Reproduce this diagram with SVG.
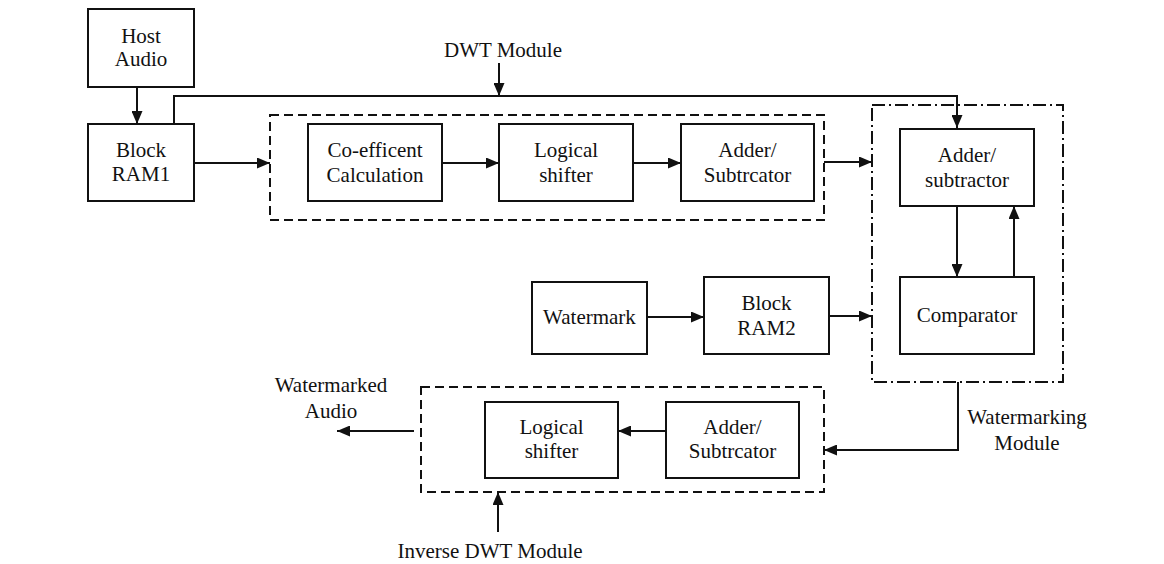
<svg xmlns="http://www.w3.org/2000/svg" width="1164" height="564" viewBox="0 0 1164 564">
<style>
.box{fill:#fff;stroke:#111;stroke-width:2}
.dash{fill:none;stroke:#111;stroke-width:2;stroke-dasharray:9 5}
.dashdot{fill:none;stroke:#111;stroke-width:2;stroke-dasharray:13 4 2 4}
.conn{fill:none;stroke:#111;stroke-width:2;marker-end:url(#ah)}
text{font-size:21px;fill:#111;text-anchor:middle}
</style>
<defs>
<marker id="ah" viewBox="0 0 13 11" refX="13" refY="5.5" markerWidth="13" markerHeight="11" markerUnits="userSpaceOnUse" orient="auto">
<path d="M0,0 L13,5.5 L0,11 z" fill="#111"/>
</marker>
</defs>
<rect width="1164" height="564" fill="#fff"/>
<g font-family="Liberation Serif, Times New Roman, DejaVu Serif, serif">
<g id="dwt-module">
<rect class="dash" x="270" y="115" width="554" height="105"/>
<text x="503" y="57">DWT Module</text>
</g>
<g id="watermarking-module">
<rect class="dashdot" x="872" y="105" width="191" height="277"/>
<text x="1027" y="424">Watermarking</text>
<text x="1027" y="450">Module</text>
</g>
<g id="inverse-dwt-module">
<rect class="dash" x="421" y="387" width="403" height="105"/>
<text x="490" y="558">Inverse DWT Module</text>
</g>

<g id="host-audio">
<rect class="box" x="88" y="9" width="106" height="78"/>
<text x="141" y="43">Host</text>
<text x="141" y="66">Audio</text>
</g>
<g id="block-ram1">
<rect class="box" x="88" y="124" width="106" height="77"/>
<text x="141" y="157">Block</text>
<text x="141" y="181">RAM1</text>
</g>
<g id="coefficent">
<rect class="box" x="308" y="124" width="134" height="77"/>
<text x="375" y="157">Co-efficent</text>
<text x="375" y="182">Calculation</text>
</g>
<g id="logical-shifter-1">
<rect class="box" x="499" y="124" width="134" height="77"/>
<text x="566" y="157">Logical</text>
<text x="566" y="182">shifter</text>
</g>
<g id="adder-subtrcator-1">
<rect class="box" x="681" y="124" width="133" height="77"/>
<text x="747.5" y="157">Adder/</text>
<text x="747.5" y="182">Subtrcator</text>
</g>
<g id="adder-subtractor-wm">
<rect class="box" x="900" y="129" width="134" height="77"/>
<text x="967" y="162">Adder/</text>
<text x="967" y="187">subtractor</text>
</g>
<g id="comparator">
<rect class="box" x="900" y="277" width="134" height="77"/>
<text x="967" y="322">Comparator</text>
</g>
<g id="watermark">
<rect class="box" x="532" y="282" width="115" height="72"/>
<text x="589.5" y="324">Watermark</text>
</g>
<g id="block-ram2">
<rect class="box" x="704" y="277" width="125" height="77"/>
<text x="766.5" y="310">Block</text>
<text x="766.5" y="335">RAM2</text>
</g>
<g id="logical-shifter-2">
<rect class="box" x="485" y="402" width="133" height="76"/>
<text x="551.5" y="434">Logical</text>
<text x="551.5" y="458">shifter</text>
</g>
<g id="adder-subtrcator-2">
<rect class="box" x="666" y="402" width="133" height="76"/>
<text x="732.5" y="434">Adder/</text>
<text x="732.5" y="458">Subtrcator</text>
</g>
<g id="watermarked-audio">
<text x="331" y="392">Watermarked</text>
<text x="331" y="418">Audio</text>
</g>
</g>
<g id="connectors">
<path class="conn" d="M137,87 V124"/>
<path class="conn" d="M174,124 V96 H957 V128"/>
<path class="conn" d="M499,63 V96"/>
<path class="conn" d="M194,163 H270"/>
<path class="conn" d="M442,163 H499"/>
<path class="conn" d="M633,163 H681"/>
<path class="conn" d="M824,162 H872"/>
<path class="conn" d="M647,317 H704"/>
<path class="conn" d="M829,316 H872"/>
<path class="conn" d="M957,206 V277"/>
<path class="conn" d="M1014,277 V206"/>
<path class="conn" d="M958,382 V450 H824"/>
<path class="conn" d="M666,431 H618"/>
<path class="conn" d="M414,431 H337"/>
<path class="conn" d="M498,532 V492"/>
</g>
</svg>
